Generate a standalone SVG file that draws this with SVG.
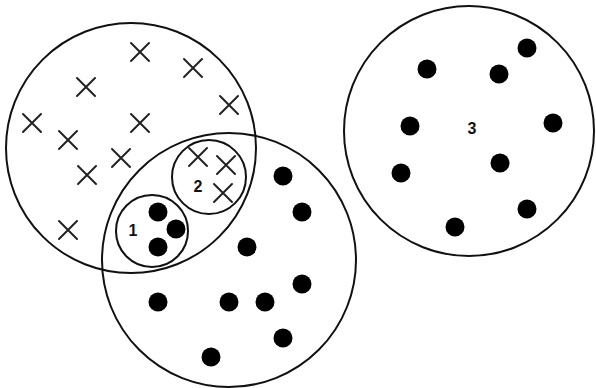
<svg xmlns="http://www.w3.org/2000/svg" xmlns:xlink="http://www.w3.org/1999/xlink" width="596" height="388" viewBox="0 0 596 388">
<style>
.ring{fill:none;stroke:#111;stroke-width:2}
.x{stroke:#222;stroke-width:2;fill:none;stroke-linecap:round}
.dot{fill:#000}
.lbl{font-family:"Liberation Sans",Arial,sans-serif;font-size:16px;font-weight:bold;fill:#111;text-anchor:middle}
</style>
<defs>
<path id="cx" class="x" d="M-9,-9 L9,9 M9,-9 L-9,9"/>
</defs>
<rect width="596" height="388" fill="#fff"/>
<g id="setA">
<circle class="ring" cx="131" cy="148" r="125"/>
<use xlink:href="#cx" x="140" y="52"/>
<use xlink:href="#cx" x="193" y="68"/>
<use xlink:href="#cx" x="86" y="87"/>
<use xlink:href="#cx" x="229" y="105"/>
<use xlink:href="#cx" x="32" y="123"/>
<use xlink:href="#cx" x="140" y="123"/>
<use xlink:href="#cx" x="68" y="140"/>
<use xlink:href="#cx" x="121" y="158"/>
<use xlink:href="#cx" x="87" y="175"/>
<use xlink:href="#cx" x="68" y="230"/>
</g>
<g id="setB">
<circle class="ring" cx="229" cy="260" r="127"/>
<circle class="dot" cx="283" cy="176" r="9.5"/>
<circle class="dot" cx="302" cy="212" r="9.5"/>
<circle class="dot" cx="247" cy="247" r="9.5"/>
<circle class="dot" cx="302" cy="284" r="9.5"/>
<circle class="dot" cx="158" cy="302" r="9.5"/>
<circle class="dot" cx="229" cy="302" r="9.5"/>
<circle class="dot" cx="265" cy="302" r="9.5"/>
<circle class="dot" cx="283" cy="338" r="9.5"/>
<circle class="dot" cx="211" cy="357" r="9.5"/>
</g>
<g id="cluster1">
<circle class="ring" cx="152" cy="231" r="36"/>
<text class="lbl" x="133" y="236">1</text>
<circle class="dot" cx="158" cy="212" r="9.5"/>
<circle class="dot" cx="176" cy="229" r="9.5"/>
<circle class="dot" cx="158" cy="247" r="9.5"/>
</g>
<g id="cluster2">
<circle class="ring" cx="209" cy="177" r="37"/>
<text class="lbl" x="198" y="192">2</text>
<use xlink:href="#cx" x="198" y="157"/>
<use xlink:href="#cx" x="226" y="165"/>
<use xlink:href="#cx" x="223" y="193"/>
</g>
<g id="cluster3">
<circle class="ring" cx="469" cy="131" r="125"/>
<text class="lbl" x="472" y="134">3</text>
<circle class="dot" cx="527" cy="48" r="9.5"/>
<circle class="dot" cx="427" cy="69" r="9.5"/>
<circle class="dot" cx="499" cy="74" r="9.5"/>
<circle class="dot" cx="410" cy="126" r="9.5"/>
<circle class="dot" cx="553" cy="123" r="9.5"/>
<circle class="dot" cx="500" cy="163" r="9.5"/>
<circle class="dot" cx="401" cy="173" r="9.5"/>
<circle class="dot" cx="527" cy="209" r="9.5"/>
<circle class="dot" cx="455" cy="227" r="9.5"/>
</g>
<g id="connectors"/>
</svg>
